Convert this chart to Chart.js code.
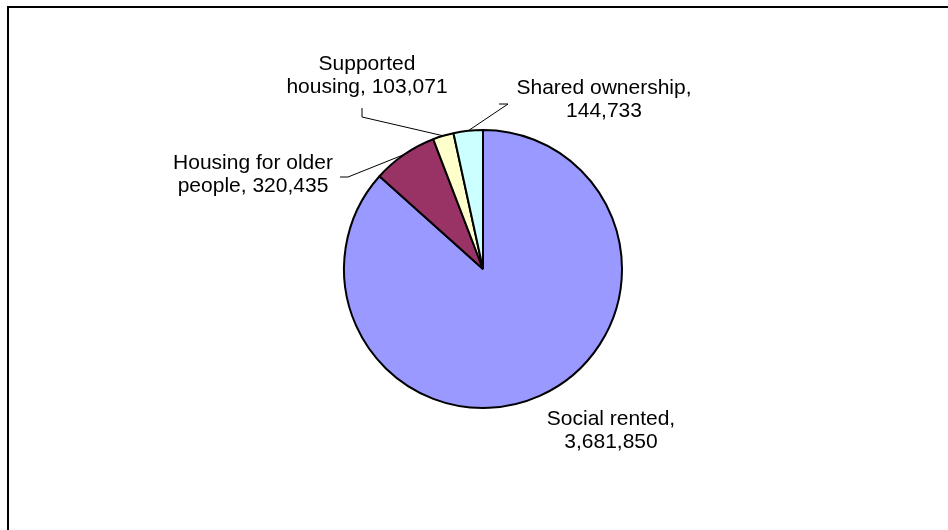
<!DOCTYPE html>
<html>
<head>
<meta charset="utf-8">
<script src="https://cdn.jsdelivr.net/npm/chart.js@4.4.1/dist/chart.umd.min.js"></script>
<style>
  html, body { margin: 0; padding: 0; background: #ffffff; }
  #wrap { width: 948px; height: 530px; }
</style>
</head>
<body>
<div id="wrap"><canvas id="chart" width="948" height="530"></canvas></div>
<script>
const categories = ["Social rented", "Housing for older people", "Supported housing", "Shared ownership"];
const values = [3681850, 320435, 103071, 144733];
const sliceColors = ["#9999ff", "#993366", "#ffffcc", "#ccffff"];

// label text lines, positions and leader elbows (leader starts at the slice edge)
const labelLines = [
  ["Social rented,", "3,681,850"],
  ["Housing for older", "people, 320,435"],
  ["Supported", "housing, 103,071"],
  ["Shared ownership,", "144,733"]
];
const labelLayout = [
  { x: 611, y: 419, leader: [] },
  { x: 253, y: 163, leader: [[348, 177], [340, 177]] },
  { x: 367, y: 64, leader: [[362, 117], [362, 108]] },
  { x: 604, y: 88, leader: [[508, 104], [499, 104]] }
];

const FONT = "21px \"Liberation Sans\", Arial, sans-serif";
const LINE_HEIGHT = 23;

const labelPlugin = {
  id: "pieLabels",
  afterDraw(chart) {
    const ctx = chart.ctx;
    ctx.save();

    // chart frame, only top and left edges are visible
    ctx.strokeStyle = "#000000";
    ctx.lineWidth = 2;
    ctx.beginPath();
    ctx.moveTo(8, 530);
    ctx.lineTo(8, 7);
    ctx.lineTo(948, 7);
    ctx.stroke();

    const arcs = chart.getDatasetMeta(0).data;
    ctx.lineWidth = 1;
    arcs.forEach((arc, index) => {
      const layout = labelLayout[index];
      if (layout.leader.length) {
        const mid = (arc.startAngle + arc.endAngle) / 2;
        const ex = arc.x + Math.cos(mid) * arc.outerRadius;
        const ey = arc.y + Math.sin(mid) * arc.outerRadius;
        ctx.beginPath();
        ctx.moveTo(ex, ey);
        layout.leader.forEach(([px, py]) => ctx.lineTo(px, py));
        ctx.stroke();
      }

      ctx.fillStyle = "#000000";
      ctx.font = FONT;
      ctx.textAlign = "center";
      ctx.textBaseline = "middle";
      labelLines[index].forEach((line, lineIndex) => {
        ctx.fillText(line, layout.x, layout.y + lineIndex * LINE_HEIGHT);
      });
    });

    ctx.restore();
  }
};

new Chart(document.getElementById("chart"), {
  type: "pie",
  data: {
    labels: categories,
    datasets: [{
      data: values,
      backgroundColor: sliceColors,
      borderColor: "#000000",
      borderWidth: 2
    }]
  },
  options: {
    responsive: false,
    animation: false,
    layout: {
      padding: { left: 343, right: 325, top: 129, bottom: 121 }
    },
    plugins: {
      legend: { display: false },
      tooltip: { enabled: false }
    }
  },
  plugins: [labelPlugin]
});
</script>
</body>
</html>
